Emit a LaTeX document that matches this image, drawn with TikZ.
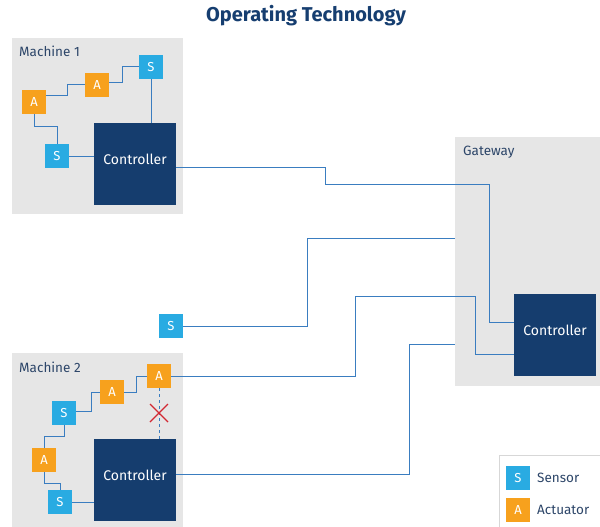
\documentclass[tikz,border=0pt]{standalone}
\usepackage{fontspec}
\setmainfont{Fira Sans}
\definecolor{zonegray}{RGB}{230,230,230}
\definecolor{ctlblue}{RGB}{21,61,110}
\definecolor{sensblue}{RGB}{41,171,226}
\definecolor{actorange}{RGB}{247,161,29}
\definecolor{linkblue}{RGB}{58,125,192}
\definecolor{lblblue}{RGB}{45,70,105}
\definecolor{titleblue}{RGB}{22,62,112}
\definecolor{crossred}{RGB}{210,40,50}
\definecolor{keygray}{RGB}{215,215,215}

\begin{document}
\begin{tikzpicture}[x=1pt,y=-1pt,
  zone/.style={fill=zonegray,inner sep=0pt},
  ctl/.style={fill=ctlblue,text=white,minimum size=82pt,inner sep=0pt,text height=10pt,text depth=10pt,font=\fontsize{14}{16}\selectfont},
  sens/.style={fill=sensblue,text=white,minimum size=24pt,inner sep=0pt,font=\fontsize{13}{15}\selectfont},
  act/.style={sens,fill=actorange},
  wire/.style={linkblue,line width=1pt},
  lbl/.style={anchor=west,inner sep=0pt,text=lblblue,font=\fontsize{13.5}{15}\selectfont}]
\useasboundingbox (0,0) rectangle (600,527);
\node[font=\bfseries\fontsize{20}{24}\selectfont,text=titleblue] (title) at (306,16) {Operating Technology};
% zones
\node[zone,minimum width=171pt,minimum height=176pt] (m1) at (97.5,126) {};
\node[zone,minimum width=171pt,minimum height=180pt] (m2) at (97.5,443) {};
\node[zone,minimum width=150pt,minimum height=249pt] (gw) at (530,261.5) {};
\node[lbl] (m1lbl) at (19,51) {Machine 1};
\node[lbl] (m2lbl) at (19,367) {Machine 2};
\node[lbl] (gwlbl) at (463,152) {Gateway};
% machine 1
\node[ctl] (ctl1) at (135,164) {Controller};
\node[act] (a1) at (34,102) {A};
\node[act] (a2) at (97,85) {A};
\node[sens] (s1) at (151,67) {S};
\node[sens] (s2) at (57,156) {S};
\draw[wire] ([yshift=6pt]a1.east) -| (67,85) -- (a2.west);
\draw[wire] ([yshift=2pt]a2.east) -| (122,67) -- (s1.west);
\draw[wire] (s1.south) -- (s1.south |- ctl1.north);
\draw[wire] (a1.south) |- (57,126) -- (s2.north);
\draw[wire] (s2.east) -- (ctl1.west |- s2.east);
% machine 2
\node[ctl] (ctl2) at (135,480) {Controller};
\node[act] (a3) at (159,376) {A};
\node[act] (a4) at (112,392) {A};
\node[sens] (s4) at (64,413) {S};
\node[act] (a5) at (44,460) {A};
\node[sens] (s5) at (60,502) {S};
\draw[wire] ([yshift=2pt]s4.east) -| (91,392) -- (a4.west);
\draw[wire] (a4.east) -| (136,376) -- (a3.west);
\draw[wire] (s4.south) |- (44,436) -- (a5.north);
\draw[wire] (a5.south) |- (60,483) -- (s5.north);
\draw[wire] (s5.east) -- (ctl2.west |- s5.east);
\draw[wire,dashed] (a3.south) -- (a3.south |- ctl2.north);
\draw[crossred,line width=1.4pt] (150,404) -- (168,422) (168,404) -- (150,422);
% gateway
\node[ctl] (ctl3) at (555,335) {Controller};
\node[sens] (s3) at (171,326) {S};
\draw[wire] ([yshift=-3pt]ctl1.east) -| (325,184) -| (489,322) -- ([yshift=13pt]ctl3.west);
\draw[wire] (s3.east) -| (307,238) -- (gw.west |- 307,238);
\draw[wire] (a3.east) -| (355,296) -| (475,354) -- ([yshift=-19pt]ctl3.west);
\draw[wire] ([yshift=6pt]ctl2.east) -| (409,344) -- (gw.west |- 409,344);
% legend
\node[draw=keygray,fill=white,minimum width=104pt,minimum height=74pt,inner sep=0pt] (key) at (551,492) {};
\node[sens] (keys) at (518,478) {S};
\node[act] (keya) at (518,510) {A};
\node[lbl] (keystxt) at (537,478) {Sensor};
\node[lbl] (keyatxt) at (537,510) {Actuator};
\end{tikzpicture}
\end{document}
